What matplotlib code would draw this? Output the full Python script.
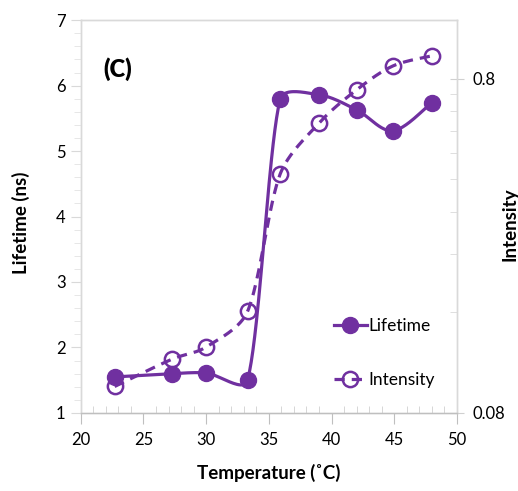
import numpy as np
import matplotlib
matplotlib.use('Agg')
import matplotlib.pyplot as plt
from matplotlib.ticker import MultipleLocator, FixedLocator, NullFormatter, FixedFormatter

plt.rcParams['font.family'] = ['Lato', 'DejaVu Sans']

# Measured data
temperature = [22.7, 27.3, 30.0, 33.3, 35.9, 39.0, 42.0, 44.9, 48.0]
lifetime = [1.55, 1.60, 1.61, 1.50, 5.79, 5.86, 5.63, 5.31, 5.74]
intensity = [0.096, 0.116, 0.126, 0.161, 0.415, 0.59, 0.742, 0.875, 0.938]

purple = '#7030A0'
grid_grey = '#bfbfbf'

X_MIN, X_MAX = 20, 50
L_MIN, L_MAX = 1, 7
I_MIN, I_MAX = 0.08, 1.2


def smooth(x, y, to_v, from_v, w=376.0, h=392.0, n=40):
    # smoothed line: bezier through the points, built in screen space,
    # control arms limited to a third of each segment
    px = (np.asarray(x) - X_MIN) / (X_MAX - X_MIN) * w
    py = to_v(np.asarray(y)) * h
    pts = np.column_stack([px, py])
    pad = np.vstack([pts[0], pts, pts[-1]])
    t = np.linspace(0, 1, n)[:, None]
    out = []
    for i in range(len(pts) - 1):
        p0, p1, p2, p3 = pad[i], pad[i + 1], pad[i + 2], pad[i + 3]
        seg_len = np.hypot(*(p2 - p1))
        a1 = (p2 - p0) / 6.0
        a2 = (p3 - p1) / 6.0
        cap = seg_len / 3.0
        if np.hypot(*a1) > cap:
            a1 = a1 / np.hypot(*a1) * cap
        if np.hypot(*a2) > cap:
            a2 = a2 / np.hypot(*a2) * cap
        c1 = p1 + a1
        c2 = p2 - a2
        seg = ((1 - t) ** 3) * p1 + 3 * ((1 - t) ** 2) * t * c1 + 3 * (1 - t) * t ** 2 * c2 + t ** 3 * p2
        out.append(seg if i == 0 else seg[1:])
    out = np.vstack(out)
    return out[:, 0] / w * (X_MAX - X_MIN) + X_MIN, from_v(out[:, 1] / h)


def lin_v(y):
    return (y - L_MIN) / (L_MAX - L_MIN)


def lin_inv(v):
    return v * (L_MAX - L_MIN) + L_MIN


def log_v(y):
    return np.log10(y / I_MIN) / np.log10(I_MAX / I_MIN)


def log_inv(v):
    return I_MIN * (I_MAX / I_MIN) ** v


fig = plt.figure(figsize=(5.18, 4.91), dpi=100)
ax = fig.add_axes([0.156, 0.159, 0.726, 0.800])
ax2 = ax.twinx()

# Lifetime (left axis)
sx, sy = smooth(temperature, lifetime, lin_v, lin_inv)
ax.plot(sx, sy, color=purple, lw=2.3, solid_capstyle='round')
ax.plot(temperature, lifetime, ls='none', marker='o', ms=11.5, color=purple)

# Intensity (right axis, log)
ix, iy = smooth(temperature, intensity, log_v, log_inv)
ax2.plot(ix, iy, color=purple, lw=2.3, dashes=(3.2, 2.2))
ax2.plot(temperature, intensity, ls='none', marker='o', ms=11, fillstyle='none',
         markeredgewidth=1.8, color=purple)

ax.set_xlim(X_MIN, X_MAX)
ax.set_ylim(L_MIN, L_MAX)
ax2.set_yscale('log')
ax2.set_ylim(I_MIN, I_MAX)

ax.xaxis.set_major_locator(MultipleLocator(5))
ax.xaxis.set_minor_locator(MultipleLocator(1))
ax.yaxis.set_major_locator(MultipleLocator(1))
ax.yaxis.set_minor_locator(MultipleLocator(0.2))

ax2.yaxis.set_major_locator(FixedLocator([0.08, 0.8]))
ax2.yaxis.set_major_formatter(FixedFormatter(['0.08', '0.8']))
ax2.yaxis.set_minor_locator(FixedLocator([0.08 * k for k in range(2, 10)]))
ax2.yaxis.set_minor_formatter(NullFormatter())

for a in (ax, ax2):
    for s in a.spines.values():
        s.set_color('#d9d9d9')
        s.set_linewidth(1.0)
ax.spines['bottom'].set_color(grid_grey)

ax.tick_params(axis='x', which='major', direction='out', length=8, color=grid_grey,
               labelsize=12, pad=6)
ax.tick_params(axis='x', which='minor', direction='in', length=5, color='#d0d0d0')
ax.tick_params(axis='y', which='major', direction='out', length=7, color='#d9d9d9',
               labelsize=12, pad=4)
ax.tick_params(axis='y', which='minor', direction='out', length=5, color='#e3e3e3')
ax2.tick_params(axis='y', which='major', direction='inout', length=10, color='#d0d0d0',
                labelsize=12, pad=6)
ax2.tick_params(axis='y', which='minor', direction='in', length=5, color='#d9d9d9')

ax.set_xlabel('Temperature (˚C)', fontsize=13.5, fontweight='bold')
ax.set_ylabel('Lifetime (ns)', fontsize=13.5, fontweight='bold')
ax2.set_ylabel('Intensity', fontsize=13.5, fontweight='bold')
ax.xaxis.set_label_coords(0.5, -0.153)
ax.yaxis.set_label_coords(-0.158, 0.485)
ax2.yaxis.set_label_coords(1.14, 0.48)
ax2.yaxis.label.set_va('center')
ax.yaxis.label.set_va('center')
ax.xaxis.label.set_va('center')

ax.text(21.8, 6.25, '(C)', fontsize=17, fontweight='heavy', va='center', ha='left')

h1 = plt.Line2D([], [], color=purple, lw=2.3, marker='o', ms=11.5)
h2 = plt.Line2D([], [], color=purple, lw=2.3, dashes=(3.2, 2.2), marker='o', ms=11,
                fillstyle='none', markeredgewidth=1.8)
ax2.legend([h1, h2], ['Lifetime', 'Intensity'], loc='center left',
           bbox_to_anchor=(0.65, 0.152), frameon=False, fontsize=12.5,
           handlelength=1.9, handletextpad=0.1, labelspacing=2.2, borderpad=0)

ax.set_zorder(ax2.get_zorder() + 1)
ax.patch.set_visible(False)

fig.savefig('out.png', dpi=100)
